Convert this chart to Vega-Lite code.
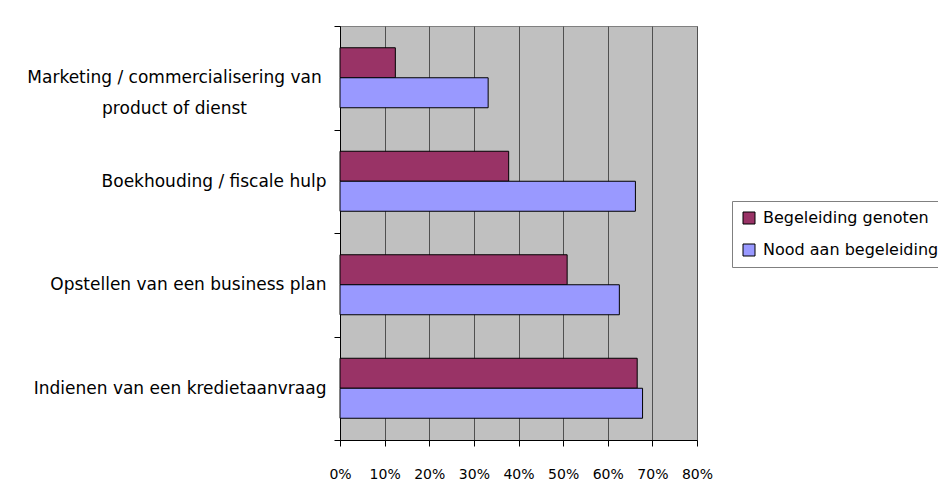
{
  "$schema": "https://vega.github.io/schema/vega-lite/v6.json",
  "width": 357,
  "height": 414,
  "autosize": {"type": "none"},
  "padding": {"left": 340, "top": 26, "right": 241, "bottom": 64},
  "background": "white",
  "config": {
    "font": "DejaVu Sans",
    "view": {"fill": "#C0C0C0", "stroke": "#808080", "strokeWidth": 1},
    "axis": {"labelFont": "DejaVu Sans", "labelFontSize": 14, "labelColor": "black", "domainColor": "black", "tickColor": "black", "tickSize": 6, "titleFontSize": 14}
  },
  "data": {
    "values": [
      {"category": "Marketing / commercialisering van product of dienst", "series": "Begeleiding genoten", "value": 0.124},
      {"category": "Marketing / commercialisering van product of dienst", "series": "Nood aan begeleiding", "value": 0.332},
      {"category": "Boekhouding / fiscale hulp", "series": "Begeleiding genoten", "value": 0.378},
      {"category": "Boekhouding / fiscale hulp", "series": "Nood aan begeleiding", "value": 0.662},
      {"category": "Opstellen van een business plan", "series": "Begeleiding genoten", "value": 0.509},
      {"category": "Opstellen van een business plan", "series": "Nood aan begeleiding", "value": 0.626},
      {"category": "Indienen van een kredietaanvraag", "series": "Begeleiding genoten", "value": 0.666},
      {"category": "Indienen van een kredietaanvraag", "series": "Nood aan begeleiding", "value": 0.678}
    ]
  },
  "mark": {"type": "bar", "stroke": "black", "strokeWidth": 1},
  "encoding": {
    "y": {
      "field": "category",
      "type": "nominal",
      "sort": ["Marketing / commercialisering van product of dienst", "Boekhouding / fiscale hulp", "Opstellen van een business plan", "Indienen van een kredietaanvraag"],
      "scale": {"paddingInner": 0, "paddingOuter": 0},
      "axis": {
        "title": null,
        "tickBand": "extent",
        "grid": false,
        "labelFontSize": 17,
        "labelLimit": 400,
        "labelLineHeight": 31,
        "labelExpr": "datum.value == 'Marketing / commercialisering van product of dienst' ? ['Marketing / commercialisering van', 'product of dienst'] : datum.label",
        "labelAlign": {"condition": {"test": "datum.value == 'Marketing / commercialisering van product of dienst'", "value": "center"}, "value": "right"},
        "labelPadding": {"condition": {"test": "datum.value == 'Marketing / commercialisering van product of dienst'", "value": 160}, "value": 8}
      }
    },
    "yOffset": {
      "field": "series",
      "type": "nominal",
      "sort": ["Begeleiding genoten", "Nood aan begeleiding"],
      "scale": {"paddingInner": 0, "paddingOuter": 0.725}
    },
    "x": {
      "field": "value",
      "type": "quantitative",
      "scale": {"domain": [0, 0.8], "nice": false},
      "axis": {
        "title": null,
        "format": ".0%",
        "values": [0, 0.1, 0.2, 0.3, 0.4, 0.5, 0.6, 0.7, 0.8],
        "grid": true,
        "gridColor": "#505050",
        "gridOpacity": 1,
        "labelPadding": 21,
        "labelFlush": false
      }
    },
    "color": {
      "field": "series",
      "type": "nominal",
      "scale": {"domain": ["Begeleiding genoten", "Nood aan begeleiding"], "range": ["#993366", "#9999FF"]},
      "legend": {
        "title": null,
        "orient": "none",
        "legendX": 392,
        "legendY": 175,
        "symbolType": "square",
        "symbolSize": 144,
        "symbolStrokeColor": "black",
        "symbolStrokeWidth": 1,
        "symbolOpacity": 1,
        "labelFont": "DejaVu Sans",
        "labelFontSize": 16,
        "labelColor": "black",
        "labelLimit": 400,
        "labelOffset": 6,
        "rowPadding": 16,
        "padding": 9,
        "strokeColor": "#808080",
        "fillColor": "white"
      }
    }
  }
}
